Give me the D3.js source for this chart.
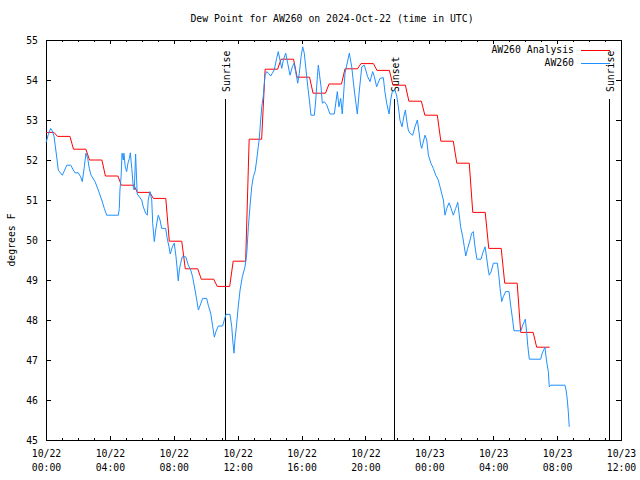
<!DOCTYPE html>
<html><head><meta charset="utf-8">
<script src="https://cdn.jsdelivr.net/npm/d3@7"></script>
<style>
body{margin:0;background:#fff}
svg{display:block}
text{font-family:"DejaVu Sans Mono","Liberation Mono",monospace;font-size:9.8px;fill:#000}
</style>
</head><body><svg id="chart" width="640" height="480"></svg>
<script>
// ---------- data ----------
const chartTitle = "Dew Point for AW260 on 2024-Oct-22 (time in UTC)";
const yAxisLabel = "degrees F";
const seriesNames = ["AW260 Analysis", "AW260"];
const yTickValues = [45, 46, 47, 48, 49, 50, 51, 52, 53, 54, 55];
const xMajorTickHours = [0, 4, 8, 12, 16, 20, 24, 28, 32, 36];
// hourly analysis values (hours after 2024-10-22 00:00 UTC)
const analysisHours = [0,1,2,3,4,5,6,7,8,9,10,11,12,13,14,15,16,17,18,19,20,21,22,23,24,25,26,27,28,29,30,31];
const analysisValues = [52.69,52.59,52.27,52.0,51.6,51.37,51.19,51.04,49.97,49.28,49.02,48.84,49.47,52.52,54.27,54.52,54.07,53.67,53.9,54.28,54.41,54.24,53.87,53.47,53.12,52.47,51.92,50.69,49.79,48.92,47.69,47.32];
// station observations: [hours after 2024-10-22 00:00 UTC, dew point F]
const observations = [
[0.0,52.43],[0.14,52.63],[0.29,52.79],[0.39,52.73],[0.5,52.6],[0.63,52.2],[0.77,51.75],[0.88,51.69],[1.02,51.62],[1.15,51.73],
[1.3,51.87],[1.55,51.87],[1.71,51.75],[1.82,51.68],[2.02,51.68],[2.17,51.58],[2.27,51.46],[2.4,51.83],[2.5,52.17],[2.61,52.04],
[2.71,51.79],[2.82,51.62],[3.07,51.46],[3.27,51.25],[3.49,51.0],[3.65,50.79],[3.8,50.62],[4.53,50.62],[4.59,50.79],[4.63,51.25],
[4.7,51.58],[4.76,52.17],[4.84,52.0],[4.88,52.17],[4.96,51.83],[5.05,51.71],[5.13,51.92],[5.22,52.04],[5.28,52.18],[5.37,51.79],
[5.47,51.3],[5.53,51.25],[5.61,52.15],[5.71,51.15],[5.99,51.0],[6.09,50.83],[6.24,50.67],[6.34,50.62],[6.4,51.0],[6.51,51.21],
[6.62,51.0],[6.68,50.42],[6.78,49.96],[6.87,50.25],[6.97,50.5],[7.03,50.62],[7.14,50.5],[7.24,50.29],[7.49,50.29],[7.59,50.04],
[7.7,49.83],[7.78,49.65],[7.91,49.83],[8.03,49.92],[8.14,49.58],[8.22,49.25],[8.28,48.98],[8.35,49.25],[8.43,49.42],[8.53,49.58],
[8.75,49.58],[8.91,49.37],[9.06,49.25],[9.18,49.08],[9.33,48.75],[9.44,48.5],[9.54,48.25],[9.7,48.42],[9.81,48.54],[10.06,48.54],
[10.16,48.37],[10.31,48.17],[10.44,47.83],[10.54,47.57],[10.64,47.71],[10.79,47.85],[11.06,47.85],[11.16,48.0],[11.27,48.14],[11.52,48.14],
[11.63,47.83],[11.69,47.5],[11.77,47.17],[11.83,47.5],[11.94,47.92],[12.04,48.35],[12.15,48.75],[12.29,49.08],[12.46,49.33],[12.57,49.67],
[12.67,50.33],[12.77,50.83],[12.88,51.33],[12.98,51.58],[13.09,51.71],[13.19,52.0],[13.29,52.33],[13.35,52.52],[13.44,53.0],[13.51,53.33],
[13.61,53.62],[13.71,54.12],[13.82,54.21],[13.92,54.17],[14.07,54.1],[14.17,54.17],[14.29,54.25],[14.44,54.54],[14.54,54.71],[14.65,54.5],
[14.76,54.29],[14.86,54.5],[15.01,54.67],[15.13,54.42],[15.28,54.12],[15.42,54.33],[15.53,54.42],[15.63,54.21],[15.76,53.92],[15.86,54.17],
[15.97,54.58],[16.07,54.83],[16.17,54.67],[16.28,54.25],[16.39,53.83],[16.49,53.5],[16.59,53.12],[16.8,53.12],[16.89,53.5],[16.99,54.08],
[17.05,54.37],[17.22,53.83],[17.3,53.42],[17.42,53.46],[17.57,53.38],[17.78,53.15],[18.05,53.15],[18.24,53.71],[18.34,53.33],[18.45,53.54],
[18.55,53.15],[18.72,54.17],[18.99,54.67],[19.14,54.33],[19.3,53.75],[19.49,53.15],[19.62,53.75],[19.77,54.33],[19.93,54.37],[20.14,54.08],
[20.29,53.96],[20.45,54.21],[20.56,54.08],[20.7,53.83],[20.91,54.04],[21.12,54.06],[21.22,53.7],[21.33,53.42],[21.48,53.15],[21.58,53.5],
[21.68,53.71],[21.85,53.75],[21.96,53.6],[22.06,53.33],[22.16,53.0],[22.29,52.83],[22.41,53.1],[22.5,53.25],[22.58,53.0],[22.68,52.75],
[22.79,52.67],[22.96,52.62],[23.1,52.83],[23.25,53.0],[23.35,52.71],[23.46,52.37],[23.52,52.29],[23.62,52.45],[23.73,52.62],[23.84,52.5],
[23.94,52.12],[24.1,51.92],[24.25,51.79],[24.4,51.62],[24.56,51.5],[24.67,51.33],[24.77,51.17],[24.88,51.0],[24.98,50.62],[25.09,50.79],
[25.24,50.93],[25.36,50.79],[25.5,50.62],[25.65,50.79],[25.78,50.94],[25.86,50.67],[25.96,50.33],[26.09,50.08],[26.19,49.83],[26.28,49.6],
[26.4,49.79],[26.55,50.0],[26.65,50.17],[26.75,50.21],[26.86,49.83],[26.98,49.52],[27.24,49.52],[27.34,49.67],[27.49,49.83],[27.59,49.55],
[27.69,49.25],[27.75,49.12],[27.86,49.2],[28.01,49.42],[28.26,49.42],[28.36,49.08],[28.43,48.79],[28.53,48.46],[28.63,48.58],[28.78,48.71],
[28.99,48.71],[29.09,48.37],[29.19,48.08],[29.3,47.73],[29.74,47.73],[29.84,47.87],[29.95,47.96],[30.01,48.02],[30.1,47.67],[30.16,47.37],
[30.26,47.02],[30.97,47.02],[31.07,47.17],[31.18,47.27],[31.24,47.32],[31.3,47.1],[31.37,46.9],[31.45,46.71],[31.51,46.33],[31.6,46.37],
[32.49,46.37],[32.56,46.25],[32.64,46.0],[32.7,45.71],[32.76,45.33]
];
const sunEventNames = ["Sunrise", "Sunset", "Sunrise"];
const sunEventHours = [11.23, 21.81, 35.27];

// ---------- chart ----------
const baseTime = Date.UTC(2024, 9, 22, 0, 0);
const toDate = h => new Date(baseTime + h * 3600e3);

const svg = d3.select("#chart");
const L = 46, R = 621, T = 40, B = 440;

const x = d3.scaleUtc().domain([toDate(0), toDate(36)]).range([L, R]);
const y = d3.scaleLinear().domain([45, 55]).range([B, T]);

// analysis step line: each hourly value holds until the half hour, short ramp to the next
const ramp = 0.22, lastEnd = 31.53;
const analysisPts = [];
analysisHours.forEach((h, i) => {
  const s = i === 0 ? 0 : h - 0.5 + ramp;
  const e = i === analysisHours.length - 1 ? lastEnd : h + 0.5;
  analysisPts.push([s, analysisValues[i]], [e, analysisValues[i]]);
});

const line = d3.line().x(d => x(toDate(d[0]))).y(d => y(d[1]));

// axes
function styleAxis(g) {
  g.select(".domain").remove();
  g.attr("font-family", null).attr("font-size", null);
  g.selectAll("line").attr("stroke", "#000").attr("shape-rendering", "crispEdges");
}
const hourly = d3.utcHour.every(1).range(toDate(0), toDate(36.01));
const majorDates = xMajorTickHours.map(toDate);

svg.append("g").attr("transform", `translate(0,${B})`)
  .call(d3.axisBottom(x).tickValues(hourly).tickSize(-2).tickFormat("")).call(styleAxis);
svg.append("g").attr("transform", `translate(0,${T})`)
  .call(d3.axisTop(x).tickValues(hourly).tickSize(-2).tickFormat("")).call(styleAxis);
svg.append("g").attr("transform", `translate(0,${T})`)
  .call(d3.axisTop(x).tickValues(majorDates).tickSize(-4).tickFormat("")).call(styleAxis);
const bx = svg.append("g").attr("transform", `translate(0,${B})`)
  .call(d3.axisBottom(x).tickValues(majorDates).tickSize(-4).tickFormat("")).call(styleAxis);
const fmtD = d3.utcFormat("%m/%d"), fmtT = d3.utcFormat("%H:%M");
bx.selectAll(".tick").each(function(d) {
  const t = d3.select(this).select("text").attr("fill", null).attr("y", null).attr("dy", null).attr("text-anchor", "middle");
  t.text(null);
  t.append("tspan").attr("x", 0).attr("y", 17).text(fmtD(d));
  t.append("tspan").attr("x", 0).attr("y", 31).text(fmtT(d));
});

const ly = svg.append("g").attr("transform", `translate(${L},0)`)
  .call(d3.axisLeft(y).tickValues(yTickValues).tickSize(-5).tickPadding(8).tickFormat(d3.format("d"))).call(styleAxis);
ly.selectAll("text").attr("fill", null);
svg.append("g").attr("transform", `translate(${R},0)`)
  .call(d3.axisRight(y).tickValues(yTickValues).tickSize(-5).tickFormat("")).call(styleAxis);

// frame
svg.append("rect").attr("x", L + 0.5).attr("y", T + 0.5).attr("width", R - L).attr("height", B - T)
  .attr("fill", "none").attr("stroke", "#000").attr("shape-rendering", "crispEdges");

// sun event markers
sunEventHours.forEach((h, i) => {
  const sx = Math.round(x(toDate(h))) + 0.5;
  svg.append("line").attr("x1", sx).attr("x2", sx).attr("y1", 99).attr("y2", B)
    .attr("stroke", "#000").attr("shape-rendering", "crispEdges");
  svg.append("text").attr("transform", `translate(${sx + 4.5},92) rotate(-90)`)
    .attr("text-anchor", "start").text(sunEventNames[i]);
});

// series
svg.append("path").datum(analysisPts).attr("d", line)
  .attr("fill", "none").attr("stroke", "#ff0000").attr("stroke-width", 1);
svg.append("path").datum(observations).attr("d", line)
  .attr("fill", "none").attr("stroke", "#1e90ff").attr("stroke-width", 1);

// legend
const legendColors = ["#ff0000", "#1e90ff"];
seriesNames.forEach((n, i) => {
  const ry = 50 + i * 12.7;
  svg.append("text").attr("x", 574).attr("y", ry).attr("dy", "0.35em").attr("text-anchor", "end").text(n);
  svg.append("line").attr("x1", 581).attr("x2", 610).attr("y1", Math.round(ry) + 0.5).attr("y2", Math.round(ry) + 0.5)
    .attr("stroke", legendColors[i]).attr("shape-rendering", "crispEdges");
});

// title and y label
svg.append("text").attr("x", 332).attr("y", 19).attr("dy", "0.35em").attr("text-anchor", "middle").text(chartTitle);
svg.append("text").attr("transform", `translate(15,240) rotate(-90)`).attr("text-anchor", "middle").text(yAxisLabel);
</script>
</body></html>
